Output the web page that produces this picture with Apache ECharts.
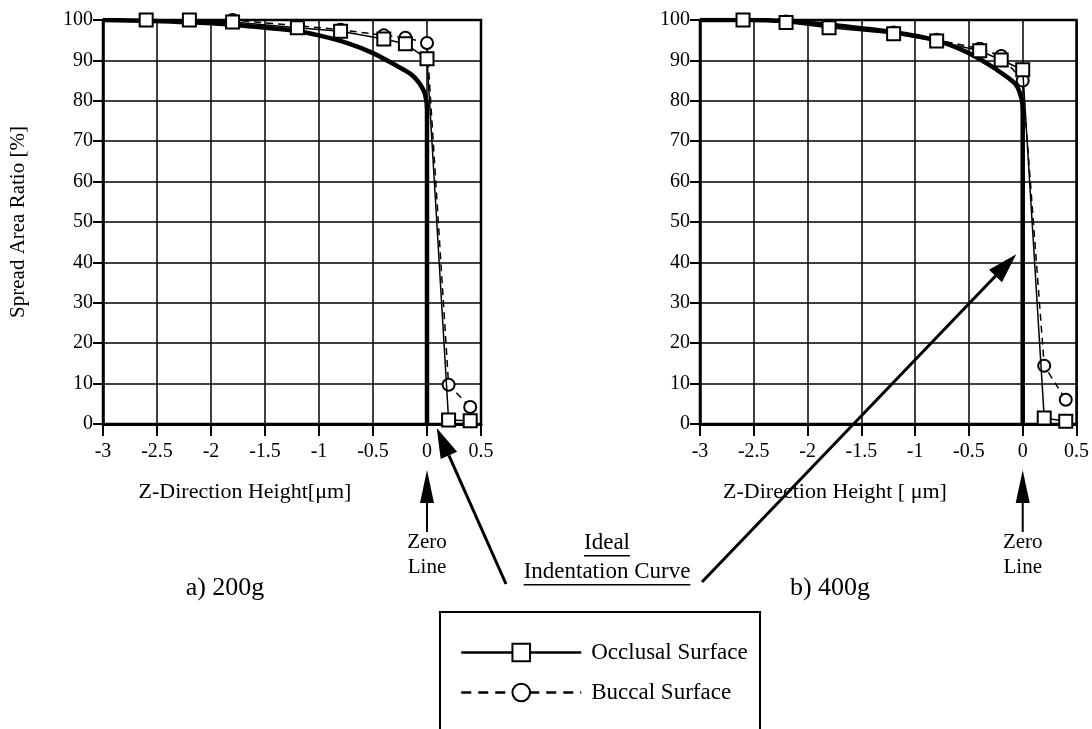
<!DOCTYPE html>
<html>
<head>
<meta charset="utf-8">
<script src="https://cdn.jsdelivr.net/npm/echarts@6/dist/echarts.min.js"></script>
<style>
  html, body { margin: 0; padding: 0; background: #fff; }
  #c { width: 1092px; height: 729px; }
</style>
</head>
<body>
<div id="c"></div>
<script>
// Z-direction heights (µm) at which the spread area ratio was measured
const heights = [-2.6, -2.2, -1.8, -1.2, -0.8, -0.4, -0.2, 0, 0.2, 0.4];

// a) 200g load
const occlusal200 = [100, 100, 99.5, 98.1, 97.2, 95.3, 94.1, 90.4, 1.0, 0.8];
const buccal200   = [100, 100, 100, 98.6, 97.6, 96.2, 95.6, 94.3, 9.7, 4.2];

// b) 400g load
const occlusal400 = [100, 99.4, 98.1, 96.6, 94.8, 92.4, 90.1, 87.7, 1.5, 0.7];
const buccal400   = [100, 99.6, 98.6, 96.9, 95.1, 92.9, 91.1, 85.0, 14.4, 6.0];

// Ideal indentation curves
const ideal200X = [-3, -2.6, -2.0, -1.5, -1.2, -1.0, -0.75, -0.5, -0.27, -0.15, -0.08, -0.02, 0, 0];
const ideal200Y = [100, 99.8, 99.2, 98.1, 97.3, 96.2, 94.4, 91.8, 88.5, 86.6, 84.7, 81.8, 77.7, 0];
const ideal400X = [-3, -2.57, -2.18, -1.79, -1.18, -0.8, -0.5, -0.26, -0.07, -0.01, 0, 0];
const ideal400Y = [100, 100, 99.7, 98.8, 96.9, 94.9, 91.8, 88.0, 84.2, 80.4, 77.0, 0];

const xAxisTitles = ['Z-Direction Height[\u03bcm]', 'Z-Direction Height [ \u03bcm]'];
const yAxisTitle = 'Spread Area Ratio [%]';
const panelTitles = ['a) 200g', 'b) 400g'];

const SERIF = 'Liberation Serif, Times New Roman, serif';
const zip = (xs, ys) => xs.map((x, i) => [x, ys[i]]);

const chart = echarts.init(document.getElementById('c'));

function xAxisFor(i) {
  return {
    type: 'value', gridIndex: i, min: -3, max: 0.5, interval: 0.5,
    axisLine: { show: true, onZero: false, lineStyle: { color: '#000', width: 3 } },
    axisTick: { show: true, length: 12, lineStyle: { color: '#000', width: 2 } },
    axisLabel: { color: '#000', fontFamily: SERIF, fontSize: 20, margin: 18 },
    splitLine: { show: true, lineStyle: { color: '#000', width: 1.5 } }
  };
}
function yAxisFor(i) {
  return {
    type: 'value', gridIndex: i, min: 0, max: 100, interval: 10,
    name: i === 0 ? yAxisTitle : '',
    nameLocation: 'middle', nameGap: 74,
    nameTextStyle: { color: '#000', fontFamily: SERIF, fontSize: 21 },
    axisLine: { show: true, onZero: false, lineStyle: { color: '#000', width: 2.5 } },
    axisTick: { show: true, length: 10, lineStyle: { color: '#000', width: 2 } },
    axisLabel: { color: '#000', fontFamily: SERIF, fontSize: 20, margin: 10 },
    splitLine: { show: true, lineStyle: { color: '#000', width: 1.5 } }
  };
}
function idealSeries(i, xs, ys) {
  return {
    type: 'line', name: 'Ideal', xAxisIndex: i, yAxisIndex: i,
    data: zip(xs, ys), showSymbol: false, symbol: 'none', smooth: 0.3,
    lineStyle: { color: '#000', width: 4.5 }, z: 2, silent: true
  };
}
function measuredSeries(i, name, ys, symbol, size, dashed) {
  return {
    type: 'line', name: name, xAxisIndex: i, yAxisIndex: i,
    data: zip(heights, ys), symbol: symbol, symbolSize: size,
    showAllSymbol: true,
    itemStyle: { color: '#fff', borderColor: '#000', borderWidth: 2 },
    lineStyle: { color: '#000', width: 1.5, type: dashed ? [7, 5] : 'solid' },
    z: dashed ? 3 : 4
  };
}

chart.setOption({
  animation: false,
  backgroundColor: '#fff',
  grid: [
    { left: 103, top: 20, width: 378, height: 404, show: true, borderColor: '#000', borderWidth: 2.5 },
    { left: 700, top: 20, width: 377, height: 404, show: true, borderColor: '#000', borderWidth: 2.5 }
  ],
  xAxis: [xAxisFor(0), xAxisFor(1)],
  yAxis: [yAxisFor(0), yAxisFor(1)],
  legend: {
    orient: 'vertical', left: 455, top: 636, itemWidth: 120, itemHeight: 22, itemGap: 17,
    data: [
      { name: 'Occlusal Surface', lineStyle: { width: 2.5, type: 'solid' } },
      { name: 'Buccal Surface', lineStyle: { width: 2.5, type: [10, 7] } }
    ],
    textStyle: { color: '#000', fontFamily: SERIF, fontSize: 23, padding: [0, 0, 0, 5] }
  },
  series: [
    idealSeries(0, ideal200X, ideal200Y),
    measuredSeries(0, 'Buccal Surface', buccal200, 'circle', 12, true),
    measuredSeries(0, 'Occlusal Surface', occlusal200, 'rect', 13, false),
    idealSeries(1, ideal400X, ideal400Y),
    measuredSeries(1, 'Buccal Surface', buccal400, 'circle', 12, true),
    measuredSeries(1, 'Occlusal Surface', occlusal400, 'rect', 13, false)
  ]
});

// ---- annotations ----
const measureCtx = document.createElement('canvas').getContext('2d');
function textWidth(str, size) {
  measureCtx.font = size + 'px ' + SERIF;
  return measureCtx.measureText(str).width;
}
function label(str, x, y, size, underline) {
  const items = [{
    type: 'text', x: x, y: y,
    style: { text: str, fill: '#000', font: size + 'px ' + SERIF, align: 'center', verticalAlign: 'middle' }
  }];
  if (underline) {
    const w = textWidth(str, size);
    items.push({ type: 'line', shape: { x1: x - w / 2, y1: y + size * 0.55, x2: x + w / 2, y2: y + size * 0.55 },
      style: { stroke: '#000', lineWidth: 1.5 } });
  }
  return items;
}
function arrow(fromX, fromY, tipX, tipY, headLen, headHalf, width) {
  const dx = tipX - fromX, dy = tipY - fromY, d = Math.hypot(dx, dy);
  const ux = dx / d, uy = dy / d;
  const bx = tipX - ux * headLen, by = tipY - uy * headLen;
  return [
    { type: 'line', shape: { x1: fromX, y1: fromY, x2: bx, y2: by }, style: { stroke: '#000', lineWidth: width } },
    { type: 'polygon', shape: { points: [[tipX, tipY], [bx - uy * headHalf, by + ux * headHalf], [bx + uy * headHalf, by - ux * headHalf]] },
      style: { fill: '#000' } }
  ];
}

const zero0 = chart.convertToPixel({ xAxisIndex: 0 }, 0);
const zero1 = chart.convertToPixel({ xAxisIndex: 1 }, 0);
const tipLeft = chart.convertToPixel({ gridIndex: 0 }, [0.09, -1]);
const tipRight = chart.convertToPixel({ gridIndex: 1 }, [-0.06, 42]);

let g = [];
g = g.concat(label(xAxisTitles[0], 245, 492, 22));
g = g.concat(label(xAxisTitles[1], 835, 492, 22));
[zero0, zero1].forEach(zx => {
  g = g.concat(arrow(zx, 532, zx, 470, 33, 7, 2));
  g = g.concat(label('Zero', zx, 542, 21));
  g = g.concat(label('Line', zx, 567, 21));
});
g = g.concat(label(panelTitles[0], 225, 588, 26));
g = g.concat(label(panelTitles[1], 830, 588, 26));
g = g.concat(label('Ideal', 607, 543, 23, true));
g = g.concat(label('Indentation Curve', 607, 572, 23, true));
g = g.concat(arrow(506, 584, tipLeft[0], tipLeft[1], 30, 9, 3));
g = g.concat(arrow(702, 582, tipRight[0], tipRight[1], 30, 9, 3));
g.push({ type: 'rect', shape: { x: 440, y: 612, width: 320, height: 140 },
  style: { fill: 'none', stroke: '#000', lineWidth: 2 }, z: -1 });

chart.setOption({ graphic: g });
</script>
</body>
</html>
